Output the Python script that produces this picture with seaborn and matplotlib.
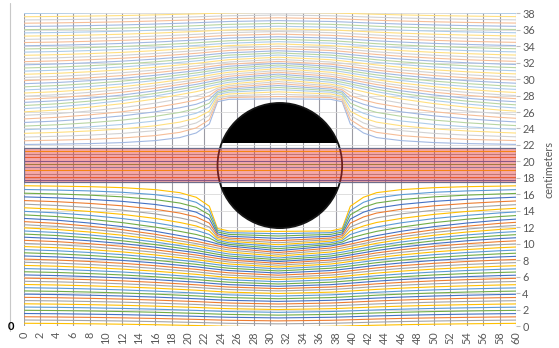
import matplotlib
matplotlib.use("Agg")
import matplotlib.pyplot as plt
from matplotlib.patches import Circle, Rectangle
from matplotlib.lines import Line2D
import numpy as np
import pandas as pd
import seaborn as sns

# Streamline heights (cm): far-field height and height abreast of the cylinder
upper_far = [21.9, 22.3, 22.7, 23.1, 23.5, 23.9, 24.3, 24.7, 25.1, 25.5, 25.9, 26.3, 26.7, 27.1,
             27.5, 27.9, 28.3, 28.7, 29.1, 29.5, 29.9, 30.3, 30.7, 31.1, 31.5, 31.9, 32.3, 32.7,
             33.1, 33.5, 33.9, 34.3, 34.7, 35.1, 35.5, 35.9, 36.3, 36.7, 37.1, 37.5, 37.9]
upper_mid = [27.60, 27.88, 28.16, 28.45, 28.73, 28.98, 29.22, 29.46, 29.70, 29.94, 30.17,
             30.39, 30.61, 30.83, 31.05, 31.27, 31.49, 31.71, 31.93, 32.15, 32.40, 32.66,
             32.92, 33.18, 33.44, 33.71, 33.99, 34.27, 34.55, 34.83, 35.14, 35.46, 35.78,
             36.10, 36.42, 36.76, 37.10, 37.44, 37.78, 38.12, 38.47]
lower_far = [17.2, 16.8, 16.4, 16.0, 15.6, 15.2, 14.8, 14.4, 14.0, 13.6, 13.2, 12.8, 12.4, 12.0,
             11.6, 11.2, 10.8, 10.4, 10.0, 9.6, 9.2, 8.8, 8.4, 8.0, 7.6, 7.2, 6.8, 6.4, 6.0, 5.6,
             5.2, 4.8, 4.4, 4.0, 3.6, 3.2, 2.8, 2.4, 2.0, 1.6, 1.2, 0.8, 0.4]
lower_mid = [11.50, 11.22, 10.94, 10.65, 10.37, 10.12, 9.88, 9.64, 9.40, 9.16, 8.93, 8.71,
             8.49, 8.27, 8.05, 7.83, 7.61, 7.39, 7.17, 6.95, 6.70, 6.44, 6.18, 5.92, 5.66,
             5.39, 5.11, 4.83, 4.55, 4.27, 3.96, 3.64, 3.32, 3.00, 2.68, 2.35, 2.01, 1.67,
             1.33, 0.99, 0.63, 0.27, -0.09]
channel_lines = [17.7, 18.1, 18.5, 18.9, 19.3, 19.7, 20.1, 20.5, 20.9, 21.3]

# Station positions along the flow and the fraction of full deflection reached there
x_stations = [0, 4, 8, 12, 16, 19, 21, 22.6, 23.6, 25, 31, 37.4, 38.8, 39.8, 41.4, 43,
              46, 50, 54, 58, 60]
near_fraction = [0.02, 0.025, 0.03, 0.045, 0.08, 0.14, 0.24, 0.44, 0.95, 1.0, 1.0, 1.0, 0.95,
                 0.44, 0.24, 0.14, 0.08, 0.045, 0.03, 0.025, 0.02]
far_fraction = [0.12, 0.17, 0.25, 0.35, 0.48, 0.6, 0.68, 0.76, 0.81, 0.87, 1.0, 0.87, 0.81,
                0.76, 0.68, 0.6, 0.48, 0.35, 0.25, 0.17, 0.14]

channel_bottom, channel_top = 17.5, 21.6
pipe_bottom, pipe_top = 16.9, 22.2
cyl_x, cyl_y, cyl_r = 31.2, 19.5, 7.6

office = ["#4472C4", "#ED7D31", "#A5A5A5", "#FFC000", "#5B9BD5", "#70AD47"]


def tint(hex_color, amount):
    rgb = np.array(matplotlib.colors.to_rgb(hex_color))
    return tuple(rgb * (1 - amount) + amount)


xs = np.array(x_stations)
near = np.array(near_fraction)
far = np.array(far_fraction)

rows = []
palette = {}
k = 0


def add_line(far_h, mid_h, dist, color):
    global k
    w = max(0.0, 1.0 - dist / 4.0)
    frac = w * near + (1 - w) * far
    ys = far_h + (mid_h - far_h) * frac
    name = f"s{k}"
    for xv, yv in zip(xs, ys):
        rows.append((name, xv, yv))
    palette[name] = color
    k += 1


for i, (f, m) in enumerate(zip(upper_far, upper_mid)):
    add_line(f, m, f - channel_top, tint(office[i % 6], 0.5))
for i, (f, m) in enumerate(zip(lower_far, lower_mid)):
    add_line(f, m, channel_bottom - f, office[(i + 3) % 6])
for i, h in enumerate(channel_lines):
    add_line(h, h, 0.0, office[i % 6])

df = pd.DataFrame(rows, columns=["line", "x", "y"])

sns.set_theme(style="white")
plt.rcParams["font.family"] = ["Lato", "DejaVu Sans"]

fig = plt.figure(figsize=(5.59, 3.48), dpi=100)
ax = fig.add_axes([0.043, 0.063, 0.880, 0.899])

sns.lineplot(data=df, x="x", y="y", hue="line", palette=palette, estimator=None,
             sort=False, legend=False, lw=0.8, ax=ax, zorder=2)

# solid cylinder, open where the pipe passes through
for lo, hi in [(pipe_top, 40), (-2, pipe_bottom)]:
    disk = Circle((cyl_x, cyl_y), cyl_r, facecolor="black", edgecolor="none", zorder=3)
    ax.add_patch(disk)
    clip = Rectangle((0, lo), 60, hi - lo, transform=ax.transData)
    disk.set_clip_path(clip)
ax.add_patch(Circle((cyl_x, cyl_y), cyl_r, facecolor="none", edgecolor="#141414",
                    lw=1.3, zorder=3.5))

# flow channel band
ax.add_patch(Rectangle((0, channel_bottom), 60, channel_top - channel_bottom,
                       facecolor="#E83232", alpha=0.42, edgecolor="none", zorder=4))
ax.add_patch(Rectangle((0, channel_bottom), 60, channel_top - channel_bottom,
                       facecolor="none", edgecolor="#6c6f8c", lw=0.9, zorder=4.1))

ax.set_xlim(0, 60)
ax.set_ylim(0, 38)
ax.set_xticks(range(0, 61, 2))
ax.set_yticks(range(0, 39, 2))
ax.grid(axis="x", color="#9c9ca4", lw=0.8, zorder=0)
ax.grid(axis="y", color="#d9d9d9", lw=0.6, zorder=0)
ax.set_axisbelow(True)
for s in ax.spines.values():
    s.set_visible(False)

ax.yaxis.tick_right()
ax.yaxis.set_label_position("right")
ax.tick_params(axis="y", length=3, width=0.8, color="#bfbfbf", pad=1.5,
               labelsize=7.8, labelcolor="#595959", right=True, left=False)
ax.tick_params(axis="x", length=0, pad=4, labelsize=7.8, labelcolor="#595959",
               labelrotation=90)
ax.set_xlabel("")
ax.set_ylabel("centimeters", fontsize=7.8, color="#595959", labelpad=6)

fig.add_artist(Line2D([9.5 / 559, 9.5 / 559], [0.05, 0.99], color="#c8c8c8", lw=0.8))
fig.text(11 / 559, 1 - 327 / 348, "0", fontsize=8, fontweight="bold", color="black",
         ha="center", va="center")

fig.savefig("out.png", dpi=100, facecolor="white")
